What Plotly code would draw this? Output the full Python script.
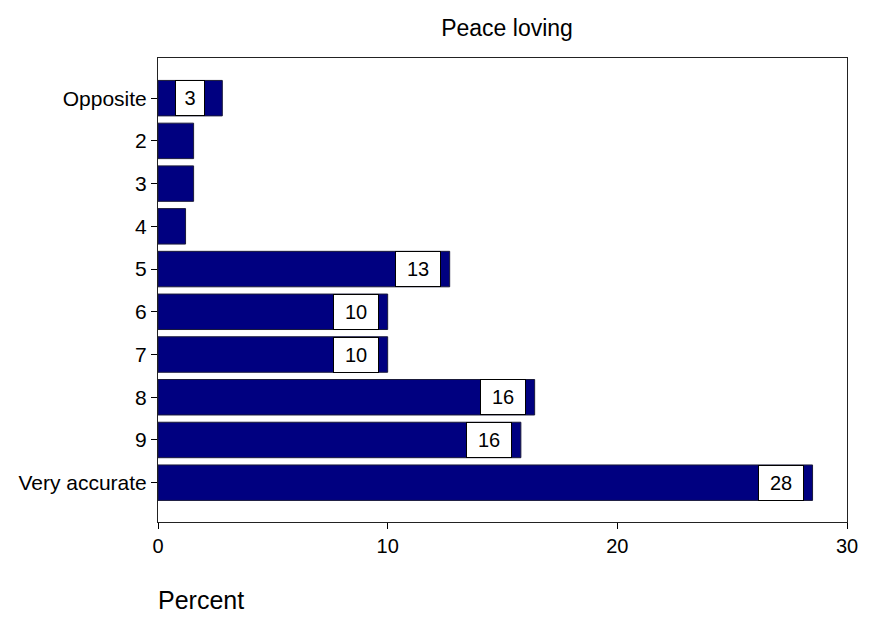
import plotly.graph_objects as go

categories = ["Opposite", "2", "3", "4", "5", "6", "7", "8", "9", "Very accurate"]
percent = [2.8, 1.55, 1.55, 1.2, 12.7, 10.0, 10.0, 16.4, 15.8, 28.5]
# value labels drawn only on the bars wide enough to hold them
labelled = [True, False, False, False, True, True, True, True, True, True]
x_ticks = [0, 10, 20, 30]

positions = list(range(len(categories)))
FONT = "Arial, Liberation Sans, sans-serif"

fig = go.Figure()
fig.add_trace(go.Bar(
    x=percent, y=positions, orientation="h", width=0.83,
    marker=dict(color="#000080", line=dict(color="#1a1a3a", width=1)),
    hoverinfo="x+y", showlegend=False,
))

for pos, val, show in zip(positions, percent, labelled):
    if not show:
        continue
    txt = str(round(val))
    fig.add_annotation(
        x=val, y=pos, xref="x", yref="y", text=txt,
        xanchor="center", yanchor="middle", xshift=-32, showarrow=False,
        font=dict(family=FONT, size=20, color="black"),
        bgcolor="white", bordercolor="black", borderwidth=1, borderpad=0,
        width=12 + 16 * len(txt), height=34,
    )

fig.update_layout(
    width=870, height=622,
    margin=dict(l=158, r=12, t=58, b=100),
    paper_bgcolor="white", plot_bgcolor="white",
    font=dict(family=FONT, size=21, color="black"),
    title=dict(text="Peace loving", x=0.5828, xanchor="center", y=0.955, yanchor="middle",
               font=dict(size=23)),
)
fig.update_xaxes(
    range=[0, 30], tickvals=x_ticks, ticks="outside", ticklen=6, tickcolor="black",
    showgrid=False, zeroline=False, showline=True, linecolor="#222222", linewidth=1,
    mirror=True, tickfont=dict(size=20),
)
fig.update_yaxes(
    range=[9.92, -0.94], tickvals=positions, ticktext=categories,
    ticks="outside", ticklen=6, tickcolor="black",
    showgrid=False, zeroline=False, showline=True, linecolor="#222222", linewidth=1,
    mirror=True, tickfont=dict(size=21),
)
fig.add_annotation(
    text="Percent", xref="paper", yref="paper", x=0.0, y=-0.168,
    xanchor="left", yanchor="middle", showarrow=False, xshift=-2,
    font=dict(size=25),
)

fig.write_html("out.html")
